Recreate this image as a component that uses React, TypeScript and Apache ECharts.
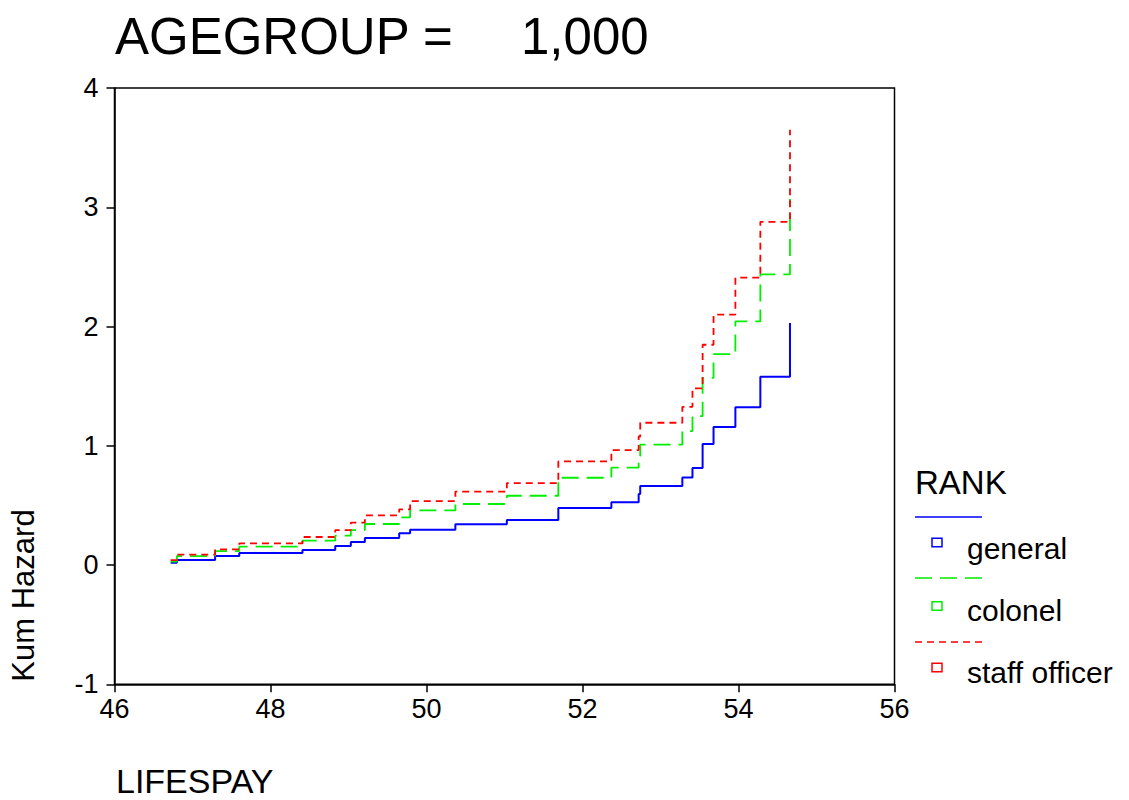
import React, { useEffect, useRef } from "react";
import * as echarts from "echarts";

const eventTimes = [46.72, 46.8, 47.29, 47.6, 48.41, 48.83, 49.03, 49.21, 49.65, 49.79, 50.37, 51.03, 51.69, 52.37, 52.72, 52.74, 53.28, 53.41, 53.54, 53.68, 53.96, 54.28, 54.66];
const general = [0.02, 0.042, 0.075, 0.1, 0.126, 0.159, 0.193, 0.226, 0.266, 0.295, 0.342, 0.377, 0.478, 0.526, 0.595, 0.663, 0.735, 0.813, 1.014, 1.157, 1.324, 1.578, 2.03];
const colonel = [0.028, 0.075, 0.117, 0.154, 0.204, 0.246, 0.293, 0.344, 0.4, 0.458, 0.512, 0.581, 0.732, 0.816, 0.915, 1.01, 1.123, 1.249, 1.57, 1.768, 2.043, 2.437, 3.07];
const staffOfficer = [0.042, 0.087, 0.131, 0.182, 0.235, 0.293, 0.355, 0.417, 0.467, 0.536, 0.616, 0.687, 0.869, 0.964, 1.078, 1.193, 1.327, 1.481, 1.847, 2.1, 2.41, 2.878, 3.65];

const seriesNames = ["general", "colonel", "staff officer"];
const seriesColors = ["#0000ff", "#00ee00", "#ff0000"];
const titleLeft = "AGEGROUP =";
const titleRight = "1,000";
const xName = "LIFESPAY";
const yName = "Kum Hazard";
const legendTitle = "RANK";

const FONT = "'Liberation Sans', Arial, sans-serif";

export default function App() {
  const ref = useRef<HTMLDivElement>(null);
  useEffect(() => {
    document.body.style.margin = "0";
    if (!ref.current) return;
    const chart = echarts.init(ref.current, null, { renderer: "svg" });
    const values = [general, colonel, staffOfficer];
    const dashes: any[] = ["solid", [17, 8], [7, 5]];
    const legendLineY = [517, 578, 642];
    const legendBoxY = [538.3, 601.7, 663.3];
    const legendTextY = [548, 610, 672];
    const legendGraphics: any[] = [
      {
        type: "text",
        x: 915,
        y: 482,
        style: { text: legendTitle, fontSize: 33, fontFamily: FONT, fill: "#000", verticalAlign: "middle", align: "left" },
      },
    ];
    seriesNames.forEach((name, i) => {
      legendGraphics.push({
        type: "line",
        shape: { x1: 915, y1: legendLineY[i], x2: 982, y2: legendLineY[i] },
        style: { stroke: seriesColors[i], lineWidth: 1.5, lineDash: dashes[i] === "solid" ? null : dashes[i] },
      });
      legendGraphics.push({
        type: "rect",
        shape: { x: 932, y: legendBoxY[i], width: 10, height: 8.5 },
        style: { stroke: seriesColors[i], fill: "#fff", lineWidth: 1.5 },
      });
      legendGraphics.push({
        type: "text",
        x: 967,
        y: legendTextY[i],
        style: { text: name, fontSize: 30, fontFamily: FONT, fill: "#000", verticalAlign: "middle", align: "left" },
      });
    });

    chart.setOption({
      animation: false,
      backgroundColor: "#fff",
      grid: {
        left: 114.5,
        top: 88,
        right: 234.5,
        bottom: 115.7,
        show: true,
        borderColor: "#000",
        borderWidth: 1.5,
        backgroundColor: "transparent",
      },
      xAxis: {
        type: "value",
        min: 46,
        max: 56,
        interval: 2,
        axisLine: { show: true, onZero: false, lineStyle: { color: "#000", width: 1.5 } },
        axisTick: { show: true, length: 8, inside: false, lineStyle: { color: "#000", width: 1.5 } },
        axisLabel: { color: "#000", fontSize: 27, fontFamily: FONT, margin: 11 },
        splitLine: { show: false },
      },
      yAxis: {
        type: "value",
        min: -1,
        max: 4,
        interval: 1,
        axisLine: { show: true, onZero: false, lineStyle: { color: "#000", width: 1.5 } },
        axisTick: { show: true, length: 8, inside: false, lineStyle: { color: "#000", width: 1.5 } },
        axisLabel: { color: "#000", fontSize: 27, fontFamily: FONT, margin: 16 },
        splitLine: { show: false },
      },
      series: seriesNames.map((name, i) => ({
        name,
        type: "line",
        step: "end",
        showSymbol: false,
        symbol: "none",
        data: eventTimes.map((t, j) => [t, values[i][j]]),
        lineStyle: {
          color: seriesColors[i],
          width: i === 0 ? 2 : 1.8,
          type: dashes[i],
        },
        itemStyle: { color: seriesColors[i] },
      })),
      graphic: [
        {
          type: "text",
          x: 115,
          y: 36,
          style: { text: titleLeft, fontSize: 51, fontFamily: FONT, fill: "#000", verticalAlign: "middle", align: "left" },
        },
        {
          type: "text",
          x: 521,
          y: 36,
          style: { text: titleRight, fontSize: 51, fontFamily: FONT, fill: "#000", verticalAlign: "middle", align: "left" },
        },
        {
          type: "text",
          x: 23,
          y: 595.5,
          rotation: Math.PI / 2,
          style: { text: yName, fontSize: 31, fontFamily: FONT, fill: "#000", verticalAlign: "middle", align: "center" },
        },
        {
          type: "text",
          x: 116,
          y: 781,
          style: { text: xName, fontSize: 34, fontFamily: FONT, fill: "#000", verticalAlign: "middle", align: "left" },
        },
        ...legendGraphics,
      ],
    });
    return () => chart.dispose();
  }, []);
  return <div ref={ref} style={{ width: 1129, height: 800 }} />;
}
